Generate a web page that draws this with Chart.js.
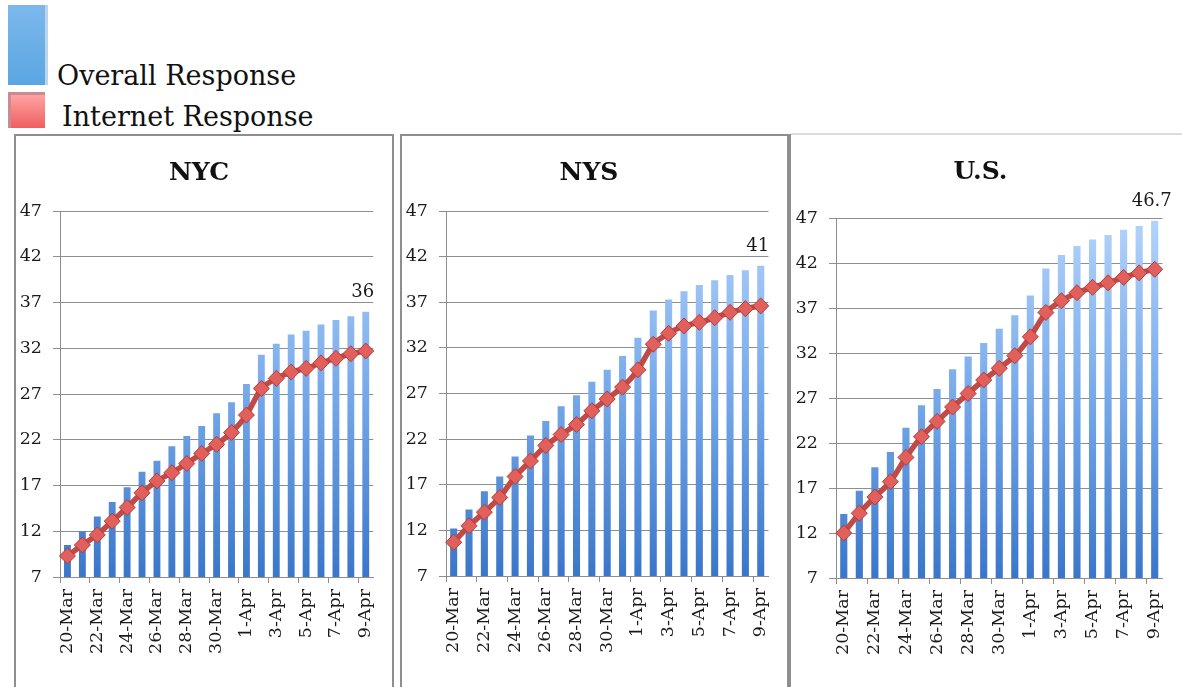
<!DOCTYPE html>
<html>
<head>
<meta charset="utf-8" />
<title>Response rates</title>
<style>
  body { margin: 0; background: #fff; overflow: hidden; width: 1182px; height: 687px; position: relative; font-family: 'DejaVu Serif', serif; }
  .abs { position: absolute; }
  .box { position: absolute; border: 2px solid #8e8e8e; box-sizing: border-box; }
  .lg-text { position: absolute; font-size: 27px; color: #111; white-space: nowrap; line-height: 1; }
</style>
</head>
<body>
  <!-- legend -->
  <div class="abs" style="left:8px;top:5px;width:37px;height:80px;background:linear-gradient(#7cb8ec,#5aa6e2);"></div>
  <div class="abs" style="left:45px;top:5px;width:3px;height:80px;background:#bcd5ea;"></div>
  <div class="lg-text" style="left:57px;top:62px;">Overall Response</div>
  <div class="abs" style="left:8px;top:92px;width:37px;height:36px;background:linear-gradient(#ffa3a3,#ee5f5f);border-top:3px solid #c98a92;border-left:3px solid #c98a92;box-sizing:border-box;"></div>
  <div class="lg-text" style="left:62px;top:103px;">Internet Response</div>

  <!-- panel frames -->
  <div class="box" style="left:14px;top:134px;width:380px;height:570px;"></div>
  <div class="box" style="left:400px;top:134px;width:389px;height:570px;"></div>
  <div class="abs" style="left:789px;top:134px;width:2px;height:560px;background:#8e8e8e;"></div>
  <div class="abs" style="left:791px;top:133px;width:391px;height:2px;background:#dcdcdc;"></div>

  <canvas id="nyc" class="abs" width="378" height="552" style="left:15px;top:135px;"></canvas>
  <canvas id="nys" class="abs" width="387" height="552" style="left:401px;top:135px;"></canvas>
  <canvas id="us" class="abs" width="391" height="552" style="left:791px;top:134px;"></canvas>

<script src="https://cdn.jsdelivr.net/npm/chart.js@4.4.1/dist/chart.umd.min.js"></script>
<script>
  var labels = ['20-Mar', '21-Mar', '22-Mar', '23-Mar', '24-Mar', '25-Mar', '26-Mar', '27-Mar', '28-Mar', '29-Mar',
                '30-Mar', '31-Mar', '1-Apr', '2-Apr', '3-Apr', '4-Apr', '5-Apr', '6-Apr', '7-Apr', '8-Apr', '9-Apr'];

  var yTicks = [7, 12, 17, 22, 27, 32, 37, 42, 47];

  var nycOverall  = [10.5, 12.0, 13.6, 15.2, 16.8, 18.5, 19.7, 21.3, 22.4, 23.5, 24.9, 26.1, 28.1, 31.3, 32.5, 33.5, 33.9, 34.6, 35.1, 35.5, 36.0];
  var nycInternet = [9.3, 10.5, 11.6, 13.1, 14.6, 16.2, 17.5, 18.4, 19.4, 20.5, 21.5, 22.8, 24.7, 27.6, 28.7, 29.4, 29.8, 30.4, 30.9, 31.4, 31.7];

  var nysOverall  = [12.2, 14.3, 16.3, 17.9, 20.1, 22.4, 24.0, 25.6, 26.8, 28.3, 29.6, 31.1, 33.1, 36.1, 37.3, 38.2, 38.9, 39.4, 40.0, 40.5, 41.0];
  var nysInternet = [10.7, 12.5, 14.0, 15.6, 17.9, 19.6, 21.3, 22.5, 23.6, 25.1, 26.4, 27.7, 29.6, 32.4, 33.6, 34.4, 34.8, 35.3, 35.9, 36.3, 36.6];

  var usOverall   = [14.1, 16.7, 19.3, 21.0, 23.7, 26.2, 28.0, 30.2, 31.6, 33.1, 34.7, 36.2, 38.4, 41.4, 42.9, 43.9, 44.6, 45.1, 45.7, 46.1, 46.7];
  var usInternet  = [12.0, 14.2, 16.0, 17.7, 20.4, 22.7, 24.4, 26.0, 27.5, 29.0, 30.3, 31.7, 33.8, 36.5, 37.8, 38.7, 39.3, 39.8, 40.4, 40.9, 41.3];

  var lastLabels = { nyc: '36', nys: '41', us: '46.7' };

  Chart.defaults.font.family = "'DejaVu Serif', serif";
  Chart.defaults.color = '#1a1a1a';

  // label over the last bar
  var lastBarLabel = {
    id: 'lastBarLabel',
    afterDatasetsDraw: function (chart, args, opts) {
      var meta = chart.getDatasetMeta(1);
      var bar = meta.data[meta.data.length - 1];
      var c = chart.ctx;
      c.save();
      c.font = "18px 'DejaVu Serif', serif";
      c.fillStyle = '#1a1a1a';
      c.textAlign = 'center';
      c.textBaseline = 'bottom';
      c.fillText(opts.text, bar.x - 3, bar.y - 10);
      c.restore();
    }
  };

  function barFill(ctx) {
    var ca = ctx.chart.chartArea;
    if (!ca) return '#6fa3e8';
    var g = ctx.chart.ctx.createLinearGradient(0, ca.top, 0, ca.bottom);
    g.addColorStop(0, '#b3d3fb');
    g.addColorStop(0.5, '#76a9ea');
    g.addColorStop(1, '#3a76c9');
    return g;
  }

  function makeChart(id, title, overall, internet, topArea, plotH, rightPad, label) {
    var titleSize = 25, titleH = titleSize * 1.2, titleTop = 38 - titleH / 2;
    return new Chart(document.getElementById(id), {
      type: 'bar',
      data: {
        labels: labels,
        datasets: [
          {
            type: 'line',
            label: 'Internet Response',
            data: internet,
            order: 0,
            borderColor: '#c24a46',
            borderWidth: 5.5,
            tension: 0.2,
            pointStyle: 'rectRot',
            pointRadius: 8,
            pointBackgroundColor: '#e2605b',
            pointBorderColor: '#b23c39',
            pointBorderWidth: 1
          },
          {
            label: 'Overall Response',
            data: overall,
            order: 1,
            backgroundColor: barFill,
            categoryPercentage: 1,
            barPercentage: 0.46
          }
        ]
      },
      options: {
        responsive: false,
        animation: false,
        layout: { padding: { left: 0, right: rightPad, top: 0, bottom: 0 } },
        plugins: {
          legend: { display: false },
          tooltip: { enabled: false },
          title: {
            display: true,
            text: title,
            color: '#111',
            font: { size: titleSize, weight: 'bold', lineHeight: 1.2 },
            padding: { top: titleTop, bottom: topArea - titleTop - titleH }
          },
          lastBarLabel: { text: label }
        },
        scales: {
          x: {
            offset: true,
            grid: {
              offset: true,
              drawOnChartArea: false,
              drawTicks: true,
              tickLength: 6,
              color: function (ctx) { return ctx.index % 2 === 0 ? '#8e8e8e' : 'rgba(0,0,0,0)'; }
            },
            border: { color: '#8e8e8e' },
            ticks: {
              autoSkip: false,
              maxRotation: 90,
              minRotation: 90,
              padding: 6,
              font: { size: 17.5 },
              color: '#1a1a1a',
              callback: function (v, i) { return i % 2 === 0 ? this.getLabelForValue(v) : ''; }
            },
            afterFit: function (s) { s.height = 552 - topArea - plotH; }
          },
          y: {
            min: 7,
            max: 47,
            afterBuildTicks: function (s) { s.ticks = yTicks.map(function (v) { return { value: v }; }); },
            grid: { color: '#8e8e8e', tickLength: 7 },
            border: { color: '#8e8e8e' },
            ticks: { padding: 11, font: { size: 17.5 }, color: '#1a1a1a' },
            afterFit: function (s) { s.width = 45; }
          }
        }
      },
      plugins: [lastBarLabel]
    });
  }

  makeChart('nyc', 'NYC', nycOverall, nycInternet, 76, 366, 10, lastLabels.nyc);
  makeChart('nys', 'NYS', nysOverall, nysInternet, 76, 365, 11, lastLabels.nys);
  makeChart('us', 'U.S.', usOverall, usInternet, 84, 360, 12, lastLabels.us);
</script>
</body>
</html>
